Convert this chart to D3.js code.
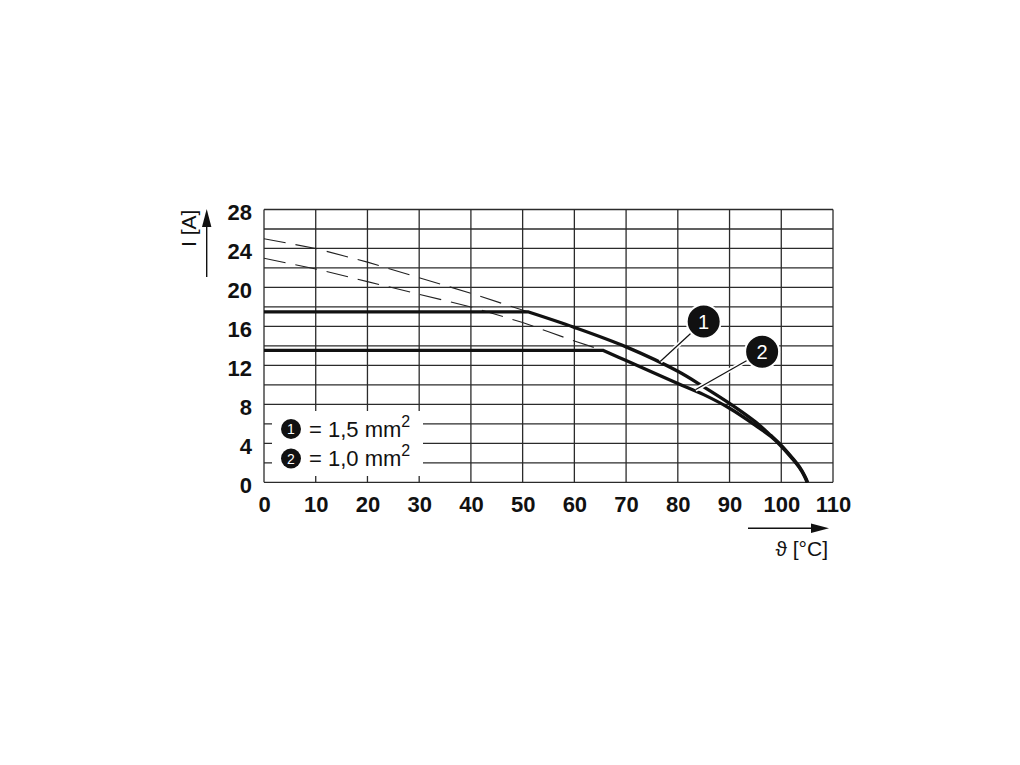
<!DOCTYPE html>
<html>
<head>
<meta charset="utf-8">
<script src="https://cdn.jsdelivr.net/npm/d3@7"></script>
<style>
  html, body { margin: 0; padding: 0; background: #fff; }
  svg { display: block; }
  text { font-family: "Liberation Sans", Arial, Helvetica, sans-serif; }
</style>
</head>
<body>
<script>
// ---------------- data ----------------
const xTicks = [0, 10, 20, 30, 40, 50, 60, 70, 80, 90, 100, 110];
const yTicks = [0, 4, 8, 12, 16, 20, 24, 28];
const yGrid = [0, 2, 4, 6, 8, 10, 12, 14, 16, 18, 20, 22, 24, 26, 28];

// curve 1 : 1,5 mm² (flat part then derating)
const curve1Flat = [[0, 17.5], [51, 17.5]];
const curve1Tail = [[51, 17.5], [60, 15.9], [70, 13.9], [80, 11.4], [85, 9.8], [90, 8.1],
                    [95, 6.2], [98, 4.8], [100, 3.8], [102, 2.6], [103.5, 1.6], [104.5, 0.7], [105.1, 0]];
// curve 2 : 1,0 mm²
const curve2Flat = [[0, 13.55], [65.5, 13.55]];
const curve2Tail = [[65.5, 13.55], [70, 12.5], [80, 10.15], [85, 9.0], [90, 7.6], [95, 5.85],
                    [98, 4.7], [100, 3.7], [102, 2.5], [103.5, 1.5], [104.5, 0.6], [105, 0]];
// dashed extensions (without derating)
const dashed1 = [[0, 25.0], [10, 24.0], [20, 22.6], [30, 21.0], [40, 19.4], [51, 17.5]];
const dashed2 = [[0, 23.0], [10, 21.9], [20, 20.6], [30, 19.3], [40, 18.0], [50, 16.4], [55, 15.45], [60, 14.5], [65.5, 13.55]];

// callout markers: [label, circle position (x, I), leader end on curve (x, I)]
const callouts = [
  { label: "1", at: [85.0, 16.5], to: [76.6, 12.4] },
  { label: "2", at: [96.3, 13.4], to: [83.4, 9.5] }
];
const legendItems = [
  { label: "1", text: "= 1,5 mm", sup: "2" },
  { label: "2", text: "= 1,0 mm", sup: "2" }
];
const yTitle = "I [A]";
const xTitle = "\u03D1 [°C]";

// ---------------- layout ----------------
const W = 1020, H = 765;
const L = 264, R = 833, T = 209.5, B = 482.3;

const svg = d3.select("body").append("svg").attr("width", W).attr("height", H);
svg.append("rect").attr("width", W).attr("height", H).attr("fill", "#fff");

const x = d3.scaleLinear().domain([0, 110]).range([L, R]);
const y = d3.scaleLinear().domain([0, 28]).range([B, T]);

const gridColor = "#2b2b2b";

// grid
const grid = svg.append("g");
grid.selectAll("line.v").data(xTicks).join("line")
  .attr("x1", d => x(d)).attr("x2", d => x(d)).attr("y1", y(0)).attr("y2", y(28))
  .attr("stroke", gridColor).attr("stroke-width", 1.3);
grid.selectAll("line.h").data(yGrid).join("line")
  .attr("x1", x(0)).attr("x2", x(110)).attr("y1", d => y(d)).attr("y2", d => y(d))
  .attr("stroke", gridColor).attr("stroke-width", 1.3);

// axes labels (tick labels)
const yAxis = svg.append("g").attr("transform", `translate(${L},0)`)
  .call(d3.axisLeft(y).tickValues(yTicks).tickSize(0).tickPadding(12).tickFormat(d3.format("d")));
yAxis.select(".domain").remove();
yAxis.selectAll("text").attr("dy", "0.46em")
  .style("font-size", "22px").style("font-weight", "bold").attr("fill", "#111");

const xAxis = svg.append("g").attr("transform", `translate(0,${B})`)
  .call(d3.axisBottom(x).tickValues(xTicks).tickSize(0).tickPadding(14).tickFormat(d3.format("d")));
xAxis.select(".domain").remove();
xAxis.selectAll("text")
  .style("font-size", "22px").style("font-weight", "bold").attr("fill", "#111");

// legend box
const lg = svg.append("g");
lg.append("rect").attr("x", L + 8).attr("y", 411).attr("width", 151).attr("height", 65)
  .attr("fill", "#fff");
legendItems.forEach((it, i) => {
  const cy = 429 + i * 29.5;
  lg.append("circle").attr("cx", 291).attr("cy", cy).attr("r", 10).attr("fill", "#111");
  lg.append("text").attr("x", 291).attr("y", cy + 5).attr("text-anchor", "middle")
    .attr("fill", "#fff").style("font-size", "14px").text(it.label);
  const t = lg.append("text").attr("x", 309).attr("y", cy + 7.5)
    .attr("fill", "#111").style("font-size", "22px");
  t.append("tspan").text(it.text);
  t.append("tspan").attr("dx", 0).attr("dy", -10).style("font-size", "16px").text(it.sup);
});

// dashed lines
const line = d3.line().x(d => x(d[0])).y(d => y(d[1]));
[dashed1, dashed2].forEach(d => {
  svg.append("path").attr("d", line(d)).attr("fill", "none")
    .attr("stroke", "#222").attr("stroke-width", 1.1).attr("stroke-dasharray", "22,10");
});

// solid curves
const smooth = d3.line().x(d => x(d[0])).y(d => y(d[1])).curve(d3.curveCatmullRom.alpha(0.5));
[[curve1Flat, curve1Tail], [curve2Flat, curve2Tail]].forEach(([flat, tail]) => {
  const dPath = line(flat) + smooth(tail).replace(/^M/, "L");
  svg.append("path").attr("d", dPath).attr("fill", "none")
    .attr("stroke", "#111").attr("stroke-width", 3.3)
    .attr("stroke-linejoin", "round").attr("stroke-linecap", "butt");
});

// callouts
const rC = 17;
callouts.forEach(c => {
  const cx = x(c.at[0]), cy = y(c.at[1]);
  const ex = x(c.to[0]), ey = y(c.to[1]);
  const dx = ex - cx, dy = ey - cy, len = Math.hypot(dx, dy);
  const sx = cx + dx / len * rC, sy = cy + dy / len * rC;
  svg.append("line").attr("x1", sx).attr("y1", sy).attr("x2", ex).attr("y2", ey)
    .attr("stroke", "#fff").attr("stroke-width", 4.5);
  svg.append("line").attr("x1", sx).attr("y1", sy).attr("x2", ex).attr("y2", ey)
    .attr("stroke", "#111").attr("stroke-width", 1.2);
  svg.append("circle").attr("cx", cx).attr("cy", cy).attr("r", rC)
    .attr("fill", "#111").attr("stroke", "#fff").attr("stroke-width", 2);
  svg.append("text").attr("x", cx).attr("y", cy + 7).attr("text-anchor", "middle")
    .attr("fill", "#fff").style("font-size", "20px").text(c.label);
});

// axis titles with arrows
svg.append("line").attr("x1", 206.7).attr("y1", 277).attr("x2", 206.7).attr("y2", 224)
  .attr("stroke", "#111").attr("stroke-width", 1.4);
svg.append("path").attr("d", "M206.7,209 L202,227 L211.4,227 Z").attr("fill", "#111");
svg.append("text").attr("transform", "translate(195.5,247) rotate(-90)")
  .attr("fill", "#111").style("font-size", "21px").text(yTitle);
svg.append("line").attr("x1", 748).attr("y1", 528.3).attr("x2", 814).attr("y2", 528.3)
  .attr("stroke", "#111").attr("stroke-width", 1.4);
svg.append("path").attr("d", "M829,528.3 L811,523.6 L811,533 Z").attr("fill", "#111");
svg.append("text").attr("x", 828).attr("y", 556).attr("text-anchor", "end")
  .attr("fill", "#111").style("font-size", "21px").text(xTitle);
</script>
</body>
</html>
